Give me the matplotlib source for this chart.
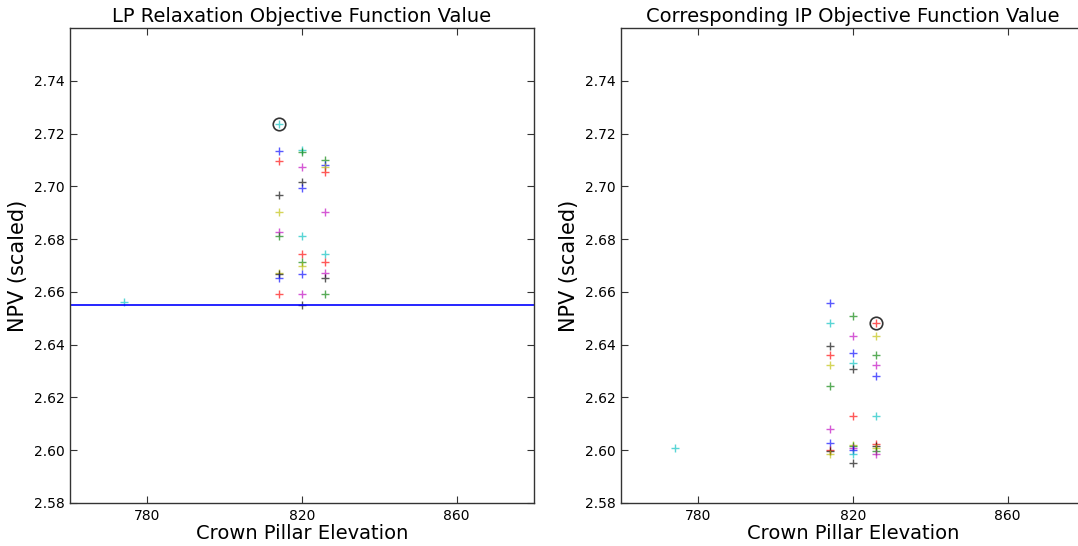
import matplotlib
matplotlib.use("Agg")
import matplotlib.pyplot as plt

# ---- data ----
lp_x = [774,
        814, 814, 814, 814, 814, 814, 814, 814, 814, 814, 814,
        820, 820, 820, 820, 820, 820, 820, 820, 820, 820, 820, 820,
        826, 826, 826, 826, 826, 826, 826, 826, 826, 826]
lp_y = [2.6562,
        2.7237, 2.7133, 2.7095, 2.6968, 2.6903, 2.6826, 2.6810, 2.6672, 2.6668, 2.6653, 2.6593,
        2.7138, 2.7129, 2.7073, 2.7018, 2.6992, 2.6811, 2.6744, 2.6714, 2.6697, 2.6668, 2.6593, 2.6552,
        2.7098, 2.7080, 2.7074, 2.7054, 2.6903, 2.6744, 2.6712, 2.6672, 2.6653, 2.6593]
lp_c = ['c',
        'c', 'b', 'r', 'k', 'y', 'm', 'g', 'y', 'k', 'b', 'r',
        'c', 'g', 'm', 'k', 'b', 'c', 'r', 'g', 'y', 'b', 'm', 'k',
        'g', 'b', 'y', 'r', 'm', 'c', 'r', 'm', 'k', 'g']
lp_best = (814, 2.7237)
lp_line = 2.655

ip_x = [774,
        814, 814, 814, 814, 814, 814, 814, 814, 814, 814, 814,
        820, 820, 820, 820, 820, 820, 820, 820, 820, 820, 820, 820,
        826, 826, 826, 826, 826, 826, 826, 826, 826, 826, 826]
ip_y = [2.6007,
        2.6558, 2.6483, 2.6395, 2.6359, 2.6323, 2.6242, 2.6081, 2.6026, 2.6002, 2.5997, 2.5987,
        2.6509, 2.6434, 2.6369, 2.6331, 2.6308, 2.6128, 2.6021, 2.6016, 2.6009, 2.6002, 2.5987, 2.5952,
        2.6483, 2.6434, 2.6359, 2.6323, 2.6280, 2.6128, 2.6024, 2.6017, 2.6009, 2.5996, 2.5987]
ip_c = ['c',
        'b', 'c', 'k', 'r', 'y', 'g', 'm', 'b', 'r', 'k', 'y',
        'g', 'm', 'b', 'c', 'k', 'r', 'y', 'g', 'm', 'b', 'c', 'k',
        'r', 'y', 'g', 'm', 'b', 'c', 'r', 'k', 'y', 'g', 'm']
ip_best = (826, 2.6483)

titles = ["LP Relaxation Objective Function Value",
          "Corresponding IP Objective Function Value"]
xlabel = "Crown Pillar Elevation"
ylabel = "NPV (scaled)"
xticks = [780, 820, 860]
yticks = [2.58, 2.60, 2.62, 2.64, 2.66, 2.68, 2.70, 2.72, 2.74]

colmap = {'b': (0, 0, 1), 'g': (0, 0.5, 0), 'r': (1, 0, 0), 'c': (0, 0.75, 0.75),
          'm': (0.75, 0, 0.75), 'y': (0.75, 0.75, 0), 'k': (0, 0, 0)}

fig = plt.figure(figsize=(10.78, 5.46), dpi=100, facecolor='white')
ax1 = fig.add_axes([70 / 1078, 43 / 546, 464 / 1078, 475 / 546])
ax2 = fig.add_axes([621 / 1078, 43 / 546, 464 / 1078, 475 / 546])

for ax, xs, ys, cs, best, title in [(ax1, lp_x, lp_y, lp_c, lp_best, titles[0]),
                                     (ax2, ip_x, ip_y, ip_c, ip_best, titles[1])]:
    for x, y, c in zip(xs, ys, cs):
        ax.plot([x], [y], marker='+', color=colmap[c], markersize=6,
                markeredgewidth=1.0, alpha=0.65, linestyle='none')
    ax.plot([best[0]], [best[1]], marker='o', markersize=9, markerfacecolor='none',
            markeredgecolor='black', markeredgewidth=1.2, alpha=0.8, linestyle='none')
    ax.set_xlim(760, 880)
    ax.set_ylim(2.58, 2.76)
    ax.set_xticks(xticks)
    ax.set_yticks(yticks)
    ax.set_yticklabels([f"{v:.2f}" for v in yticks])
    ax.tick_params(direction='in', top=True, right=True, length=5, width=0.8,
                   labelsize=10, pad=4, color='#333333')
    for s in ax.spines.values():
        s.set_color('#333333')
        s.set_linewidth(1.0)
    ax.set_title(title, fontsize=14, pad=4)
    ax.set_xlabel(xlabel, fontsize=14, labelpad=1)
    ax.set_ylabel(ylabel, fontsize=15, labelpad=4)

ax1.axhline(lp_line, color='blue', linewidth=1.2)

fig.savefig("out.png", dpi=100, facecolor='white')
